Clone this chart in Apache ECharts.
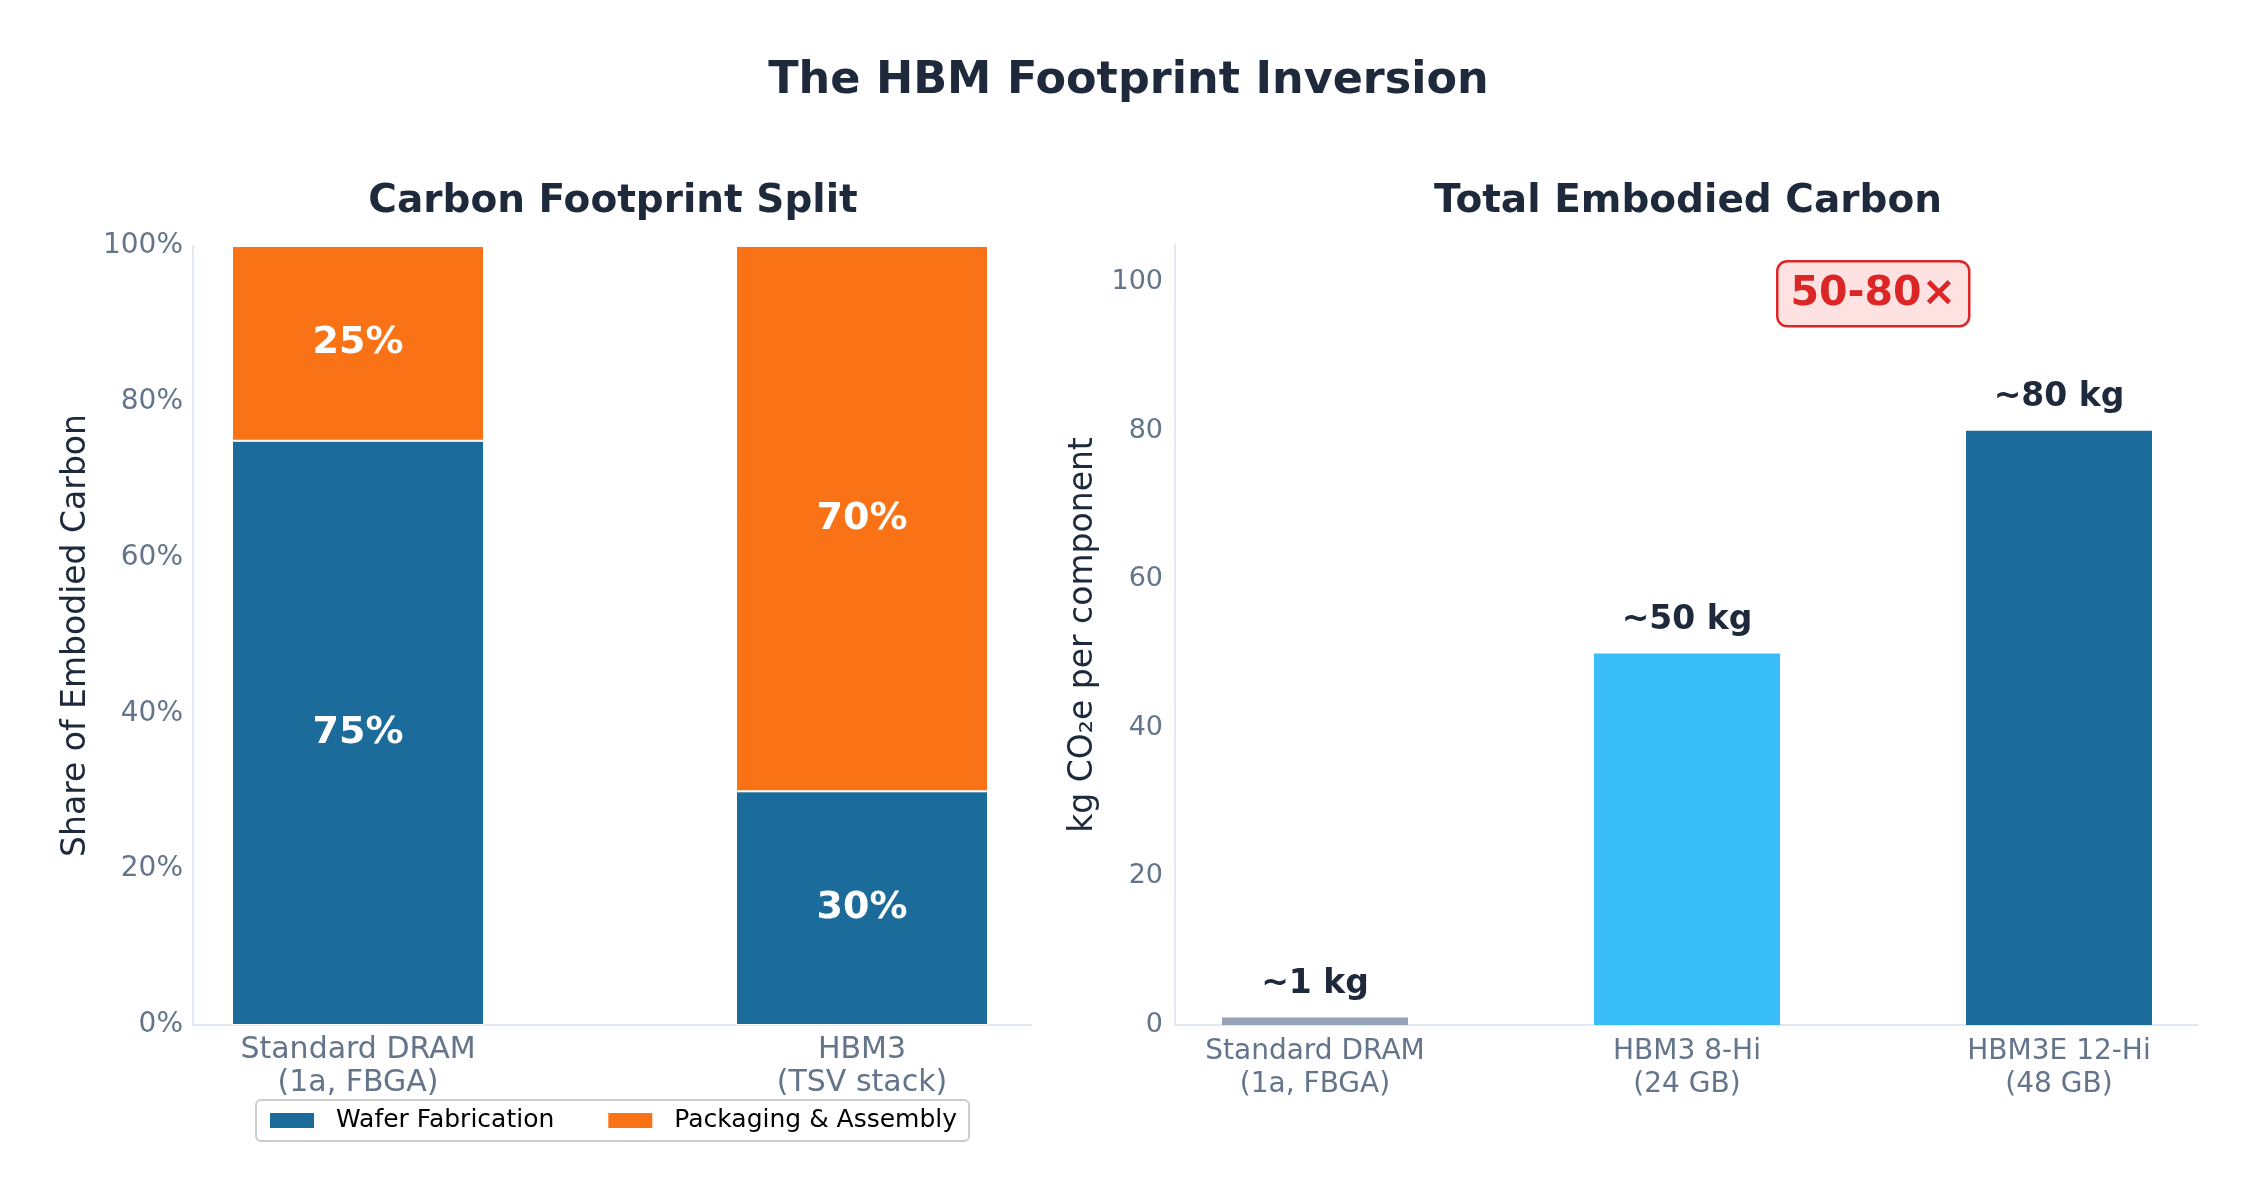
<!DOCTYPE html>
<html>
<head>
<meta charset="utf-8">
<title>The HBM Footprint Inversion</title>
<script src="https://cdn.jsdelivr.net/npm/echarts@6/dist/echarts.min.js"></script>
<style>
    html, body { margin: 0; padding: 0; background: #fff; }
    #main { width: 2257px; height: 1204px; }
</style>
</head>
<body>
<div id="main"></div>
<script>
// 左图：碳足迹占比
var splitCategories = ['Standard DRAM\n(1a, FBGA)', 'HBM3\n(TSV stack)'];
var waferShare = [75, 30];
var packagingShare = [25, 70];

// 右图：总隐含碳
var totalCategories = ['Standard DRAM\n(1a, FBGA)', 'HBM3 8-Hi\n(24 GB)', 'HBM3E 12-Hi\n(48 GB)'];
var totalCarbon = [1, 50, 80];
var totalLabels = ['~1 kg', '~50 kg', '~80 kg'];
var totalColors = ['#94a3b8', '#38bdf8', '#1b6b9b'];

var inkDark = '#1e293b';
var tickGray = '#64748b';
var spine = '#e2e8f0';

initChart();

function initChart() {
    var myChart = echarts.init(document.getElementById('main'));

    var hiddenAxis = {
        axisLine: { show: false },
        axisTick: { show: false },
        axisLabel: { show: false },
        splitLine: { show: false }
    };

    var option = {
        backgroundColor: '#ffffff',
        textStyle: { fontFamily: 'DejaVu Sans' },
        animation: false,
        title: [
            {
                text: 'The HBM Footprint Inversion',
                left: 'center',
                top: 54,
                textStyle: { fontSize: 44.5, fontWeight: 'bold', color: inkDark }
            },
            {
                text: 'Carbon Footprint Split',
                left: 608,
                textAlign: 'center',
                top: 177,
                textStyle: { fontSize: 39, fontWeight: 'bold', color: inkDark }
            },
            {
                text: 'Total Embodied Carbon',
                left: 1683,
                textAlign: 'center',
                top: 177,
                textStyle: { fontSize: 39, fontWeight: 'bold', color: inkDark }
            }
        ],
        legend: {
            data: ['Wafer Fabrication', 'Packaging & Assembly'],
            left: 256,
            top: 1100,
            icon: 'rect',
            itemWidth: 46,
            itemHeight: 17,
            itemGap: 52,
            padding: [8, 12],
            borderColor: '#cccccc',
            borderWidth: 2,
            borderRadius: 5,
            backgroundColor: '#ffffff',
            textStyle: { fontSize: 25, color: '#000000', padding: [2, 0, 0, 16] }
        },
        grid: [
            { left: 193, right: 1226, top: 246, bottom: 179 },   // 左图坐标轴
            { left: 106, width: 1008, top: 246, bottom: 179 },   // 左图柱子
            { left: 1175, right: 59, top: 245, bottom: 179 },    // 右图坐标轴
            { left: 1129, width: 1116, top: 245, bottom: 179 }   // 右图柱子
        ],
        xAxis: [
            {
                gridIndex: 0, type: 'value', min: 0, max: 1,
                axisLine: { show: true, lineStyle: { color: spine, width: 2 } },
                axisTick: { show: false }, axisLabel: { show: false }, splitLine: { show: false }
            },
            {
                gridIndex: 1, type: 'category', data: splitCategories,
                axisLine: { show: false }, axisTick: { show: false },
                axisLabel: { color: tickGray, fontSize: 30, lineHeight: 33, margin: 9 }
            },
            {
                gridIndex: 2, type: 'value', min: 0, max: 1,
                axisLine: { show: true, lineStyle: { color: spine, width: 2 } },
                axisTick: { show: false }, axisLabel: { show: false }, splitLine: { show: false }
            },
            {
                gridIndex: 3, type: 'category', data: totalCategories,
                axisLine: { show: false }, axisTick: { show: false },
                axisLabel: { color: tickGray, fontSize: 28, lineHeight: 33, margin: 10 }
            }
        ],
        yAxis: [
            {
                gridIndex: 0, type: 'value', min: 0, max: 100, interval: 20,
                name: 'Share of Embodied Carbon',
                nameLocation: 'middle',
                nameGap: 100,
                nameTextStyle: { fontSize: 33, color: inkDark },
                axisLine: { show: true, lineStyle: { color: spine, width: 2 } },
                axisTick: { show: false },
                axisLabel: { formatter: '{value}%', color: tickGray, fontSize: 28, margin: 10, padding: [3, 0, 0, 0] },
                splitLine: { show: false }
            },
            Object.assign({ gridIndex: 1, type: 'value', min: 0, max: 100 }, hiddenAxis),
            {
                gridIndex: 2, type: 'value', min: 0, max: 105, interval: 20,
                name: 'kg CO\u2082e per component',
                nameLocation: 'middle',
                nameGap: 75,
                nameTextStyle: { fontSize: 33, color: inkDark },
                axisLine: { show: true, lineStyle: { color: spine, width: 2 } },
                axisTick: { show: false },
                axisLabel: { color: tickGray, fontSize: 27, margin: 12, showMaxLabel: false, padding: [4, 0, 0, 0] },
                splitLine: { show: false }
            },
            Object.assign({ gridIndex: 3, type: 'value', min: 0, max: 105 }, hiddenAxis)
        ],
        series: [
            {
                name: 'Wafer Fabrication',
                type: 'bar',
                xAxisIndex: 1, yAxisIndex: 1,
                stack: 'share',
                barWidth: '50%',
                data: waferShare,
                itemStyle: { color: '#1b6b9b', borderColor: '#ffffff', borderWidth: 1 },
                label: {
                    show: true, position: 'inside', formatter: '{c}%',
                    color: '#ffffff', fontSize: 38, fontWeight: 'bold'
                }
            },
            {
                name: 'Packaging & Assembly',
                type: 'bar',
                xAxisIndex: 1, yAxisIndex: 1,
                stack: 'share',
                barWidth: '50%',
                data: packagingShare,
                itemStyle: { color: '#f97316', borderColor: '#ffffff', borderWidth: 1 },
                label: {
                    show: true, position: 'inside', formatter: '{c}%',
                    color: '#ffffff', fontSize: 38, fontWeight: 'bold'
                }
            },
            {
                name: 'Total',
                type: 'bar',
                xAxisIndex: 3, yAxisIndex: 3,
                barWidth: '50%',
                data: totalCarbon.map(function (v, i) {
                    return { value: v, itemStyle: { color: totalColors[i] } };
                }),
                label: {
                    show: true, position: 'top', distance: 17,
                    formatter: function (p) { return totalLabels[p.dataIndex]; },
                    color: inkDark, fontSize: 33, fontWeight: 'bold'
                }
            }
        ],
        graphic: [
            {
                type: 'group',
                left: 1776,
                top: 260,
                children: [
                    {
                        type: 'rect',
                        shape: { x: 0, y: 0, width: 192, height: 65, r: 10 },
                        style: { fill: '#fee2e2', stroke: '#dc2626', lineWidth: 2.5 }
                    },
                    {
                        type: 'text',
                        x: 96, y: 33,
                        style: {
                            text: '50-80\u00d7',
                            fill: '#dc2626',
                            font: 'bold 41px "DejaVu Sans"',
                            align: 'center', verticalAlign: 'middle',
                            textAlign: 'center', textVerticalAlign: 'middle'
                        }
                    }
                ]
            }
        ]
    };

    myChart.setOption(option);
}
</script>
</body>
</html>
